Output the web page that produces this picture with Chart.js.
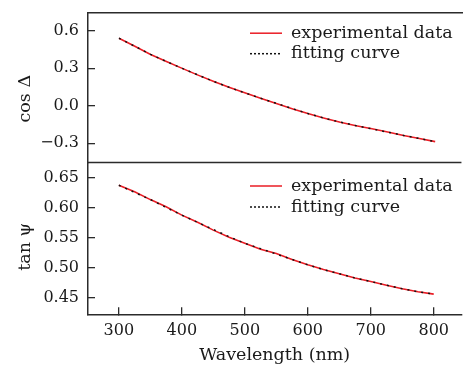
<!DOCTYPE html>
<html><head><meta charset="utf-8">
<script src="https://cdn.jsdelivr.net/npm/chart.js@4/dist/chart.umd.min.js"></script>
<style>
html,body{margin:0;padding:0;background:#fff;overflow:hidden}
#wrap{position:relative;width:463px;height:369px;background:#fff}
canvas{position:absolute;left:0;top:0}
</style></head>
<body><div id="wrap"><canvas id="c1" width="463" height="369"></canvas><canvas id="c2" width="463" height="369"></canvas></div>
<script>
const wavelength = [300,325,350,375,400,425,450,475,500,525,550,575,600,625,650,675,700,725,750,775,800];
const cosExp = [0.540,0.476,0.410,0.354,0.299,0.245,0.194,0.146,0.101,0.058,0.016,-0.026,-0.065,-0.100,-0.133,-0.160,-0.185,-0.211,-0.239,-0.263,-0.288];
const cosFit = [0.540,0.476,0.411,0.354,0.299,0.246,0.194,0.146,0.101,0.058,0.017,-0.025,-0.065,-0.100,-0.132,-0.160,-0.186,-0.212,-0.238,-0.263,-0.288];
const tanExp = [0.638,0.627,0.614,0.602,0.588,0.576,0.563,0.551,0.541,0.531,0.524,0.514,0.505,0.497,0.490,0.483,0.477,0.471,0.465,0.460,0.456];
const tanFit = [0.638,0.626,0.614,0.601,0.588,0.576,0.564,0.552,0.541,0.532,0.523,0.514,0.505,0.497,0.490,0.483,0.477,0.471,0.465,0.460,0.456];
const cosTicks = [-0.3,0.0,0.3,0.6];
const tanTicks = [0.45,0.50,0.55,0.60,0.65];
const xTicks = [300,400,500,600,700,800];
const seriesNames = ['experimental data','fitting curve'];

Chart.defaults.font.family = '"DejaVu Serif", serif';
Chart.defaults.font.size = 16;
Chart.defaults.color = '#1a1a1a';

const AXIS = '#2b2b2b';
const RED = '#ea1c24';

const panelDeco = {
  id: 'panelDeco',
  afterDraw(chart, args, o) {
    const {ctx, chartArea: a} = chart;
    ctx.save();
    ctx.strokeStyle = AXIS; ctx.lineWidth = 1.5;
    ctx.beginPath(); ctx.moveTo(a.left, a.top); ctx.lineTo(a.right, a.top); ctx.stroke();
    ctx.font = '17.5px "DejaVu Serif", serif';
    ctx.textBaseline = 'middle'; ctx.textAlign = 'left'; ctx.fillStyle = '#1a1a1a';
    chart.data.datasets.forEach((d, i) => {
      const y = a.top + o.legendTop + i * o.legendGap;
      ctx.beginPath(); ctx.strokeStyle = d.borderColor; ctx.lineWidth = 1.5;
      ctx.setLineDash(i ? [2, 2] : []);
      ctx.moveTo(o.legendX, y); ctx.lineTo(o.legendX + 32, y); ctx.stroke();
      ctx.setLineDash([]);
      ctx.fillText(d.label, o.legendX + 41, y);
    });
    ctx.restore();
  }
};

function pts(ys) { return wavelength.map((w, i) => ({x: w, y: ys[i]})); }

function datasets(exp, fit) {
  return [
    {label: seriesNames[0], data: pts(exp), borderColor: RED, borderWidth: 1.6, pointRadius: 0, order: 2, tension: 0},
    {label: seriesNames[1], data: pts(fit), borderColor: '#111', borderWidth: 1.5, borderDash: [2, 5], pointRadius: 0, order: 1, tension: 0}
  ];
}

function yScale(min, max, ticks, fmt, title) {
  return {
    type: 'linear', min, max,
    afterBuildTicks: s => { s.ticks = ticks.map(v => ({value: v})); },
    afterFit: s => { s.width = 88; s.paddingTop = 0; s.paddingBottom = 0; },
    grid: {display: true, drawOnChartArea: false, drawTicks: true, tickLength: -7, color: AXIS, lineWidth: 1.3},
    border: {display: true, color: AXIS, width: 1.5},
    ticks: {padding: 16, callback: fmt, font: {size: 16}, color: '#1a1a1a'},
    title: {display: true, text: title, font: {size: 17.5}, color: '#1a1a1a', padding: {top: 14.5, bottom: 0}}
  };
}

new Chart(document.getElementById('c1'), {
  type: 'line',
  data: {datasets: datasets(cosExp, cosFit)},
  options: {
    responsive: false, animation: false, devicePixelRatio: 1,
    layout: {padding: {top: 12.7, bottom: 206.5, left: 0, right: 0}},
    plugins: {legend: {display: false}, tooltip: {enabled: false},
      panelDeco: {legendX: 250, legendTop: 20.5, legendGap: 20.5}},
    scales: {
      x: {type: 'linear', min: 251, max: 844, display: false},
      y: yScale(-0.455, 0.745, cosTicks, v => (v < 0 ? '\u2212' : '') + Math.abs(v).toFixed(1), 'cos \u0394    ')
    }
  },
  plugins: [panelDeco]
});

new Chart(document.getElementById('c2'), {
  type: 'line',
  data: {datasets: datasets(tanExp, tanFit)},
  options: {
    responsive: false, animation: false, devicePixelRatio: 1,
    layout: {padding: {top: 162.5, bottom: 0, left: 0, right: 0}},
    plugins: {legend: {display: false}, tooltip: {enabled: false},
      panelDeco: {legendX: 250, legendTop: 23.5, legendGap: 21}},
    scales: {
      x: {
        type: 'linear', min: 251, max: 844,
        afterBuildTicks: s => { s.ticks = xTicks.map(v => ({value: v})); },
        afterFit: s => { s.height = 54.7; },
        grid: {display: true, drawOnChartArea: false, drawTicks: true, tickLength: -7, color: AXIS, lineWidth: 1.3},
        border: {display: true, color: AXIS, width: 1.5},
        ticks: {padding: 14, callback: v => String(v), font: {size: 16}, color: '#1a1a1a', maxRotation: 0},
        title: {display: true, text: 'Wavelength (nm)', font: {size: 17.5}, color: '#1a1a1a', padding: {top: 0, bottom: 3.5}}
      },
      y: yScale(0.4223, 0.676, tanTicks, v => v.toFixed(2), 'tan \u03c8   ')
    }
  },
  plugins: [panelDeco]
});
</script>
</body></html>
